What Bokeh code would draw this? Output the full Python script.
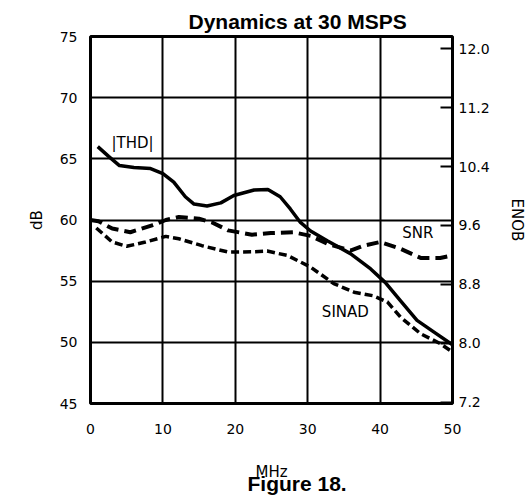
from bokeh.plotting import figure
from bokeh.models import Range1d, LinearAxis, FixedTicker, Title, NumeralTickFormatter
from bokeh.core.properties import value
from bokeh.embed import file_html
from bokeh.resources import INLINE

# ---- data ----
thd_f = [1.0, 2.5, 4.0, 6.0, 8.3, 10.0, 11.5, 13.1, 14.3, 16.1, 18.0, 19.8, 22.6, 24.5,
         26.2, 27.6, 29.0, 30.4, 32.7, 35.9, 38.7, 40.7, 42.8, 45.1, 47.4, 50.0]
thd_db = [66.0, 65.2, 64.45, 64.3, 64.2, 63.8, 63.1, 61.9, 61.3, 61.15, 61.4, 62.0, 62.45, 62.5,
          61.9, 60.9, 59.8, 59.1, 58.3, 57.25, 56.0, 54.9, 53.4, 51.8, 50.85, 49.8]

snr_f = [0.0, 1.1, 3.0, 5.5, 8.5, 10.4, 12.2, 15.0, 16.8, 19.0, 22.3, 24.9, 28.0, 30.4,
         32.7, 35.9, 37.7, 40.0, 42.8, 45.6, 48.3, 50.0]
snr_db = [60.0, 59.9, 59.3, 59.0, 59.56, 60.0, 60.24, 60.1, 59.8, 59.15, 58.8, 58.93, 59.0, 58.7,
          58.06, 57.5, 57.9, 58.2, 57.65, 56.9, 56.9, 57.1]

sinad_f = [0.8, 3.0, 5.0, 7.6, 10.4, 12.2, 15.4, 19.0, 22.3, 24.4, 27.2, 30.4, 33.6, 36.4,
           39.1, 41.0, 42.8, 45.6, 48.3, 50.0]
sinad_db = [59.35, 58.2, 57.85, 58.2, 58.66, 58.47, 57.9, 57.38, 57.4, 57.46, 57.1, 56.15, 54.8, 54.1,
            53.8, 53.3, 52.07, 50.7, 49.9, 49.2]

series_names = ["|THD|", "SNR", "SINAD"]
name_f = [5.8, 45.2, 35.2]
name_db = [66.3, 58.9, 52.5]

x_ticks = [0, 10, 20, 30, 40, 50]
y_ticks = [45, 50, 55, 60, 65, 70, 75]
enob_ticks = [7.2, 8.0, 8.8, 9.6, 10.4, 11.2, 12.0]
db_min, db_max = 45, 75

FONT = "DejaVu Sans"

p = figure(width=528, height=502, output_backend="svg", toolbar_location=None,
           x_range=Range1d(0, 50), y_range=Range1d(db_min, db_max),
           min_border_left=90, min_border_right=76, min_border_top=36, min_border_bottom=99)
p.background_fill_color = "white"
p.border_fill_color = "white"
p.outline_line_color = "black"
p.outline_line_width = 3

# grids
p.xgrid.ticker = FixedTicker(ticks=x_ticks)
p.ygrid.ticker = FixedTicker(ticks=y_ticks)
for g in (p.xgrid, p.ygrid):
    g.grid_line_color = "black"
    g.grid_line_width = 2
    g.grid_line_alpha = 1.0

# bottom axis
xa = p.xaxis[0]
xa.ticker = FixedTicker(ticks=x_ticks)
xa.axis_label = "MHz"
xa.major_label_standoff = 20
xa.axis_label_standoff = 26

# left axis
ya = p.yaxis[0]
ya.ticker = FixedTicker(ticks=y_ticks)
ya.axis_label = "dB"
ya.major_label_standoff = 13
ya.axis_label_standoff = 11

# right axis (ENOB)
p.extra_y_ranges = {"enob": Range1d((db_min - 1.76) / 6.02, (db_max - 1.76) / 6.02)}
ra = LinearAxis(y_range_name="enob", ticker=FixedTicker(ticks=enob_ticks),
                formatter=NumeralTickFormatter(format="0.0"))
ra.axis_label = "ENOB"
ra.major_label_standoff = 6
ra.axis_label_standoff = 15
p.add_layout(ra, "right")

for ax in (xa, ya, ra):
    ax.axis_line_color = None
    ax.major_tick_out = 0
    ax.major_tick_in = 0
    ax.minor_tick_line_color = None
    ax.major_label_text_font = FONT
    ax.major_label_text_font_size = "14px"
    ax.major_label_text_color = "black"
    ax.axis_label_text_font = FONT
    ax.axis_label_text_font_size = "15px"
    ax.axis_label_text_font_style = "normal"
    ax.axis_label_text_color = "black"

ra.major_tick_in = 12
ra.major_tick_line_color = "black"
ra.major_tick_line_width = 2

# curves
p.line(thd_f, thd_db, line_color="black", line_width=3.5, line_join="round")
p.line(snr_f, snr_db, line_color="black", line_width=4, line_dash="12 6")
p.line(sinad_f, sinad_db, line_color="black", line_width=3.5, line_dash="8 4")

p.text(x=name_f, y=name_db, text=series_names, text_font=value(FONT), text_font_size="15px",
       text_align="center", text_baseline="middle", text_color="black")

# title and caption
p.add_layout(Title(text="Dynamics at 30 MSPS", align="left", offset=98, standoff=4,
                   vertical_align="top",
                   text_font="Liberation Sans", text_font_style="bold", text_font_size="21px",
                   text_color="black"), "above")
p.add_layout(Title(text="Figure 18.", align="left", offset=157, standoff=-23,
                   vertical_align="top",
                   text_font="Liberation Sans", text_font_style="bold", text_font_size="21px",
                   text_color="black"), "below")

open("out.html", "w").write(file_html(p, INLINE))
